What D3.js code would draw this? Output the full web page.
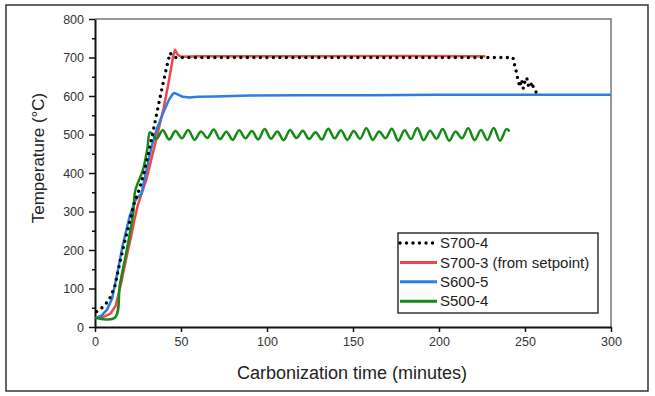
<!DOCTYPE html>
<html>
<head>
<meta charset="utf-8">
<script src="https://cdn.jsdelivr.net/npm/d3@7"></script>
<style>
  body { margin: 0; background: #fff; }
  svg { font-family: "Liberation Sans", Arial, sans-serif; }
</style>
</head>
<body>
<script>
// Datos: [tiempo (min), temperatura (°C)]
const s7004 = [
  [1, 40], [3, 46], [6, 58], [9, 78], [11.6, 107], [14.5, 168], [17.4, 224],
  [20.3, 276], [23, 325], [26, 360], [29, 410], [32, 470], [35, 535],
  [38, 600], [41, 662], [43.6, 712], [45.5, 703], [47, 700], [243, 700],
  [244, 680], [245, 662], [246, 640], [247, 624], [248, 643], [249, 620],
  [250, 638], [251, 648], [252, 626], [253, 622], [254, 636], [255, 620],
  [256, 612], [257, 608]
];
const s7003 = [
  [3, 25], [6, 28], [9, 35], [12, 55], [15, 110], [18, 175], [21, 235],
  [23, 280], [25, 318], [27, 345], [30, 385], [33, 440], [36, 495],
  [40, 570], [43, 640], [45.5, 705], [46.5, 720], [48, 708], [50, 702],
  [60, 703], [120, 703], [180, 704], [227, 703]
];
const s6005 = [
  [1, 24], [4, 30], [7, 45], [10, 75], [13, 140], [16, 210], [20, 285],
  [23, 325], [25, 338], [27, 345], [28, 368], [30, 410], [33, 470],
  [36, 515], [40, 560], [43, 590], [45, 604], [46, 608], [48, 604],
  [51, 598], [55, 596], [60, 598], [70, 599], [90, 601], [120, 602],
  [160, 602], [200, 603], [250, 603], [300, 603]
];
const s5004 = [
  [0, 24], [11.5, 24], [14.5, 111], [18.4, 198], [22.3, 300], [23.3, 352],
  [28, 410], [30.5, 465], [32, 506], [35.7, 489], [39.4, 511], [43.1, 487],
  [46.8, 509], [50.5, 490], [54.2, 512], [57.9, 486], [61.6, 508],
  [65.3, 491], [69, 513], [72.7, 488], [76.4, 507], [80.1, 486],
  [83.8, 511], [87.5, 490], [91.2, 509], [94.9, 487], [98.6, 514],
  [102.3, 489], [106, 508], [109.7, 485], [113.4, 512], [117.1, 491],
  [120.8, 510], [124.5, 488], [128.2, 506], [131.9, 487], [135.6, 515],
  [139.3, 490], [143, 511], [146.7, 486], [150.4, 509], [154.1, 489],
  [157.8, 516], [161.5, 486], [165.2, 508], [168.9, 490], [172.6, 515],
  [176.3, 484], [180, 511], [183.7, 488], [187.4, 517], [191.1, 485],
  [194.8, 510], [198.5, 489], [202.2, 514], [205.9, 484], [209.6, 508],
  [213.3, 490], [217, 516], [220.7, 485], [224.4, 512], [228.1, 486],
  [231.8, 517], [235.5, 484], [239.2, 514], [241, 508]
];

const nombres = ["S700-4", "S700-3 (from setpoint)", "S600-5", "S500-4"];
const xTicks = [0, 50, 100, 150, 200, 250, 300];
const yTicks = [0, 100, 200, 300, 400, 500, 600, 700, 800];
const yMinor = [50, 150, 250, 350, 450, 550, 650, 750];

const WIDTH = 655;
const HEIGHT = 396;

const svg = d3.select("body").append("svg")
  .attr("width", WIDTH)
  .attr("height", HEIGHT);

// Marco exterior
svg.append("rect")
  .attr("x", 6).attr("y", 5)
  .attr("width", 642).attr("height", 386)
  .attr("fill", "none")
  .attr("stroke", "#333")
  .attr("stroke-width", 1.5);

const escalaX = d3.scaleLinear().domain([0, 300]).range([95, 611]);
const escalaY = d3.scaleLinear().domain([0, 800]).range([327, 19]);

// Marco superior y derecho en gris
svg.append("path")
  .attr("d", `M${escalaX(0)},${escalaY(800)}H${escalaX(300)}V${escalaY(0)}`)
  .attr("fill", "none")
  .attr("stroke", "#777")
  .attr("stroke-width", 1.5);

// Eje Y con ticks menores
const ejeYMenor = svg.append("g")
  .attr("transform", `translate(${escalaX(0)},0)`)
  .call(d3.axisLeft(escalaY).tickValues(yMinor).tickSize(3).tickFormat(""));
ejeYMenor.select(".domain").remove();

const ejeY = svg.append("g")
  .attr("transform", `translate(${escalaX(0)},0)`)
  .call(d3.axisLeft(escalaY).tickValues(yTicks).tickSize(6).tickPadding(5).tickSizeOuter(0));

const ejeX = svg.append("g")
  .attr("transform", `translate(0,${escalaY(0)})`)
  .call(d3.axisBottom(escalaX).tickValues(xTicks).tickSize(5).tickPadding(5).tickSizeOuter(0));

[ejeY, ejeX, ejeYMenor].forEach(g => {
  g.selectAll(".domain").attr("stroke", "#111").attr("stroke-width", 2);
  g.selectAll(".tick line").attr("stroke", "#111").attr("stroke-width", 1.5);
  g.selectAll(".tick text")
    .attr("fill", "#333")
    .style("font-size", "12.5px")
    .style("font-family", "\"Liberation Sans\", Arial, sans-serif");
});

// Títulos de ejes
svg.append("text")
  .attr("x", 352).attr("y", 379)
  .attr("text-anchor", "middle")
  .attr("fill", "#222")
  .style("font-size", "18px")
  .text("Carbonization time (minutes)");

svg.append("text")
  .attr("transform", "translate(44,158) rotate(-90)")
  .attr("text-anchor", "middle")
  .attr("fill", "#222")
  .style("font-size", "17px")
  .text("Temperature (°C)");

// Líneas
const linea = d3.line()
  .x(d => escalaX(d[0]))
  .y(d => escalaY(d[1]));
const lineaSuave = d3.line()
  .x(d => escalaX(d[0]))
  .y(d => escalaY(d[1]))
  .curve(d3.curveCatmullRom.alpha(0.5));

const series = [
  { datos: s7003, color: "#ec4a4a", generador: linea },
  { datos: s6005, color: "#2e7ee0", generador: linea },
  { datos: s5004, color: "#168a16", generador: lineaSuave },
];

series.forEach(s => {
  svg.append("path")
    .datum(s.datos)
    .attr("d", s.generador)
    .attr("fill", "none")
    .attr("stroke", s.color)
    .attr("stroke-width", 2.5)
    .attr("stroke-linejoin", "round");
});

svg.append("path")
  .datum(s7004)
  .attr("d", linea)
  .attr("fill", "none")
  .attr("stroke", "#000")
  .attr("stroke-width", 3.4)
  .attr("stroke-linecap", "round")
  .attr("stroke-dasharray", "0 6.5");

// Leyenda
const leyenda = svg.append("g");
leyenda.append("rect")
  .attr("x", 398).attr("y", 233)
  .attr("width", 200).attr("height", 80)
  .attr("fill", "#fff")
  .attr("stroke", "#333")
  .attr("stroke-width", 1.5);

const estilos = [
  { color: "#000", dash: "0 6.5", ancho: 3.4 },
  { color: "#ec4a4a", dash: null, ancho: 3 },
  { color: "#2e7ee0", dash: null, ancho: 3 },
  { color: "#168a16", dash: null, ancho: 3 },
];

nombres.forEach((n, i) => {
  const yy = 243 + i * 19.4;
  leyenda.append("line")
    .attr("x1", 400).attr("x2", 437)
    .attr("y1", yy).attr("y2", yy)
    .attr("stroke", estilos[i].color)
    .attr("stroke-width", estilos[i].ancho)
    .attr("stroke-linecap", estilos[i].dash ? "round" : "butt")
    .attr("stroke-dasharray", estilos[i].dash);
  leyenda.append("text")
    .attr("x", 440).attr("y", yy)
    .attr("dy", "0.35em")
    .attr("fill", "#222")
    .style("font-size", "15px")
    .text(n);
});
</script>
</body>
</html>
